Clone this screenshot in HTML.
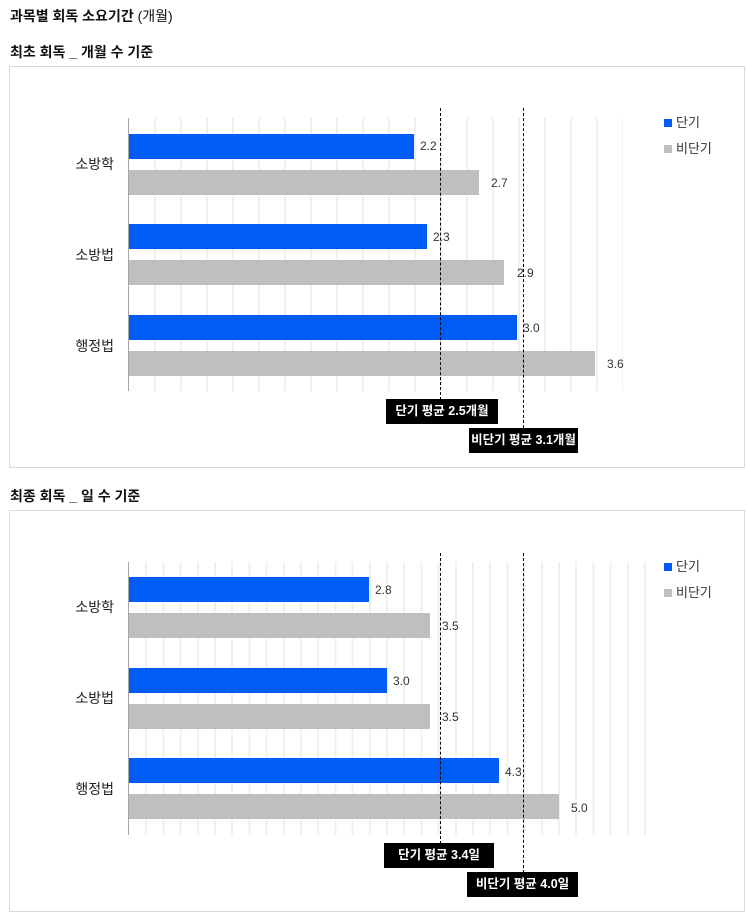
<!DOCTYPE html>
<html><head><meta charset="utf-8"><style>
body{margin:0;width:747px;height:912px;background:#fff;font-family:"Liberation Sans","Noto Sans CJK KR",sans-serif;position:relative;overflow:hidden}
.a{position:absolute}
.t{font-size:14px;color:#111;font-weight:bold}
.panel{position:absolute;left:9px;width:736px;border:1px solid #d9d9d9;box-sizing:border-box}
.bar{position:absolute;height:25px}
.b{background:#005cf6}.g{background:#bfbfbf}
.v{position:absolute;font-size:12px;color:#333}
.cat{position:absolute;font-size:14px;color:#222;width:110px;text-align:right;left:4px}
.dash{position:absolute;width:0;border-left:1px dashed #000}
.box{position:absolute;background:#000;color:#fff;font-size:12.5px;font-weight:bold;height:25px;line-height:25px;text-align:center}
.leg{position:absolute;font-size:13px;color:#333}
.leg i{display:inline-block;width:8px;height:8px;margin-right:4px;vertical-align:0}
</style></head><body>
<div class="a t" style="left:10px;top:6px">과목별 회독 소요기간 <span style="font-weight:normal">(개월)</span></div>
<div class="a t" style="left:10px;top:42px">최초 회독 _ 개월 수 기준</div>
<div class="panel" style="top:66px;height:402px"></div>
<div class="a" style="left:130px;top:118px;width:493px;height:273px;background:repeating-linear-gradient(90deg,transparent 0,transparent 24px,#f0f0f0 24px,#f0f0f0 26px)"></div>
<div class="a" style="left:128px;top:118px;width:1px;height:273px;background:#a6a6a6"></div>
<div class="cat" style="top:154px">소방학</div>
<div class="cat" style="top:245px">소방법</div>
<div class="cat" style="top:336px">행정법</div>
<div class="bar b" style="left:129px;top:134px;width:285px"></div><div class="v" style="left:420px;top:139px">2.2</div>
<div class="bar g" style="left:129px;top:170px;width:350px"></div><div class="v" style="left:491px;top:176px">2.7</div>
<div class="bar b" style="left:129px;top:224px;width:298px"></div><div class="v" style="left:433px;top:230px">2.3</div>
<div class="bar g" style="left:129px;top:260px;width:375px"></div><div class="v" style="left:517px;top:266px">2.9</div>
<div class="bar b" style="left:129px;top:315px;width:388px"></div><div class="v" style="left:523px;top:321px">3.0</div>
<div class="bar g" style="left:129px;top:351px;width:466px"></div><div class="v" style="left:607px;top:357px">3.6</div>
<div class="dash" style="left:440px;top:108px;height:292px"></div>
<div class="dash" style="left:523px;top:108px;height:320px"></div>
<div class="box" style="left:386px;top:399px;width:112px">단기 평균 2.5개월</div>
<div class="box" style="left:469px;top:428px;width:109px">비단기 평균 3.1개월</div>
<div class="leg" style="left:664px;top:112px"><i style="background:#005cf6"></i>단기</div>
<div class="leg" style="left:664px;top:138px"><i style="background:#bfbfbf"></i>비단기</div>

<div class="a t" style="left:10px;top:486px">최종 회독 _ 일 수 기준</div>
<div class="panel" style="top:510px;height:402px"></div>
<div class="a" style="left:130px;top:562px;width:516px;height:273px;background:repeating-linear-gradient(90deg,transparent 0,transparent 15.2px,#f0f0f0 15.2px,#f0f0f0 17.2px)"></div>
<div class="a" style="left:128px;top:562px;width:1px;height:273px;background:#a6a6a6"></div>
<div class="cat" style="top:597px">소방학</div>
<div class="cat" style="top:688px">소방법</div>
<div class="cat" style="top:779px">행정법</div>
<div class="bar b" style="left:129px;top:577px;width:240px"></div><div class="v" style="left:375px;top:583px">2.8</div>
<div class="bar g" style="left:129px;top:613px;width:301px"></div><div class="v" style="left:442px;top:619px">3.5</div>
<div class="bar b" style="left:129px;top:668px;width:258px"></div><div class="v" style="left:393px;top:674px">3.0</div>
<div class="bar g" style="left:129px;top:704px;width:301px"></div><div class="v" style="left:442px;top:710px">3.5</div>
<div class="bar b" style="left:129px;top:758px;width:370px"></div><div class="v" style="left:505px;top:765px">4.3</div>
<div class="bar g" style="left:129px;top:794px;width:430px"></div><div class="v" style="left:571px;top:801px">5.0</div>
<div class="dash" style="left:440px;top:553px;height:291px"></div>
<div class="dash" style="left:523px;top:553px;height:320px"></div>
<div class="box" style="left:384px;top:843px;width:110px">단기 평균 3.4일</div>
<div class="box" style="left:467px;top:872px;width:111px">비단기 평균 4.0일</div>
<div class="leg" style="left:664px;top:556px"><i style="background:#005cf6"></i>단기</div>
<div class="leg" style="left:664px;top:582px"><i style="background:#bfbfbf"></i>비단기</div>
</body></html>
